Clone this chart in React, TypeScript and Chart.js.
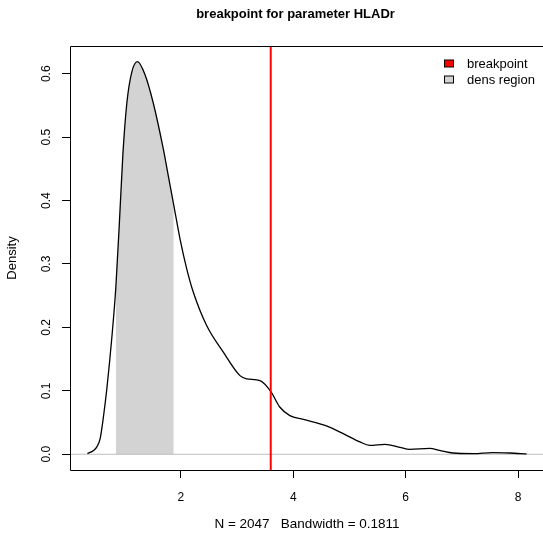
import React, { useEffect, useRef } from 'react';
import { Chart, registerables } from 'chart.js';

Chart.register(...registerables);

const titleText = 'breakpoint for parameter HLADr';
const xAxisLabel = 'N = 2047   Bandwidth = 0.1811';
const yAxisLabel = 'Density';

const densityX = [0.34, 0.45, 0.51, 0.567, 0.626, 0.686, 0.774, 0.845, 0.91, 0.97, 1.04, 1.13, 1.23, 1.366, 1.513, 1.69, 1.78, 1.875, 1.99, 2.107, 2.225, 2.46, 2.757, 3.053, 3.17, 3.41, 3.6, 3.76, 3.94, 4.18, 4.59, 4.89, 5.185, 5.36, 5.63, 5.895, 6.07, 6.43, 6.6, 6.84, 7.2, 7.55, 7.85, 8.15];
const densityY = [0.001, 0.006, 0.012, 0.025, 0.06, 0.104, 0.184, 0.263, 0.368, 0.472, 0.553, 0.603, 0.619, 0.598, 0.553, 0.481, 0.438, 0.393, 0.338, 0.292, 0.255, 0.203, 0.161, 0.124, 0.119, 0.116, 0.099, 0.0745, 0.061, 0.055, 0.0446, 0.0325, 0.0195, 0.014, 0.0157, 0.011, 0.0077, 0.0092, 0.0063, 0.002, 0.001, 0.0027, 0.002, 0.0006];

const regionStart = 0.845;
const regionEnd = 1.875;
const breakpoint = 3.6;

const xTicks = [2, 4, 6, 8];
const yTicks = [0, 0.1, 0.2, 0.3, 0.4, 0.5, 0.6];

const legendLabels = ['breakpoint', 'dens region'];
const legendColors = ['#FF0000', '#D3D3D3'];

const xMin = 0.03;
const xMax = 8.46;
const yMin = -0.0248;
const yMax = 0.6437;

const FONT = '"Liberation Sans", Arial, Helvetica, sans-serif';

export default function App() {
  const canvasRef = useRef<HTMLCanvasElement | null>(null);

  useEffect(() => {
    const canvas = canvasRef.current;
    if (!canvas) return;

    const curve = densityX.map((x, i) => ({ x, y: densityY[i] }));
    const region = curve.filter((p) => p.x >= regionStart && p.x <= regionEnd);

    const decorPlugin = {
      id: 'rDecor',
      afterDatasetsDraw(chart: any) {
        const { ctx, chartArea } = chart;
        const l = Math.round(chartArea.left) + 0.5;
        const t = Math.round(chartArea.top) + 0.5;
        const r = Math.min(Math.round(chartArea.right), window.innerWidth);
        const b = Math.round(chartArea.bottom) + 0.5;
        ctx.save();
        ctx.strokeStyle = '#000';
        ctx.lineWidth = 1;
        ctx.beginPath();
        ctx.moveTo(r, t);
        ctx.lineTo(l, t);
        ctx.lineTo(l, b);
        ctx.lineTo(r, b);
        ctx.stroke();
        ctx.restore();
      },
      afterDraw(chart: any) {
        const { ctx } = chart;
        ctx.save();
        ctx.fillStyle = '#000';
        ctx.font = `bold 13px ${FONT}`;
        ctx.textAlign = 'center';
        ctx.textBaseline = 'middle';
        ctx.fillText(titleText, 295.5, 14);

        ctx.font = `13px ${FONT}`;
        ctx.textAlign = 'left';
        legendLabels.forEach((label, i) => {
          const y = 63.5 + i * 16;
          ctx.fillStyle = legendColors[i];
          ctx.fillRect(444.5, y - 3.5, 9, 7);
          ctx.strokeStyle = '#000';
          ctx.lineWidth = 1;
          ctx.strokeRect(444.5, y - 3.5, 9, 7);
          ctx.fillStyle = '#000';
          ctx.fillText(label, 467, y + 0.5);
        });
        ctx.restore();
      },
    };

    const chart = new Chart(canvas, {
      type: 'line',
      data: {
        datasets: [
          {
            label: 'breakpoint',
            data: [
              { x: breakpoint, y: yMin },
              { x: breakpoint, y: yMax },
            ],
            borderColor: '#FF0000',
            borderWidth: 2,
            pointRadius: 0,
            fill: false,
            order: 0,
          },
          {
            label: 'density',
            data: curve,
            borderColor: '#000',
            borderWidth: 1.3,
            pointRadius: 0,
            fill: false,
            cubicInterpolationMode: 'monotone',
            order: 1,
          },
          {
            label: 'zero',
            data: [
              { x: xMin, y: 0 },
              { x: xMax, y: 0 },
            ],
            borderColor: '#BEBEBE',
            borderWidth: 1,
            pointRadius: 0,
            fill: false,
            order: 2,
          },
          {
            label: 'dens region',
            data: region,
            borderWidth: 0,
            borderColor: 'rgba(0,0,0,0)',
            backgroundColor: '#D3D3D3',
            pointRadius: 0,
            fill: 'origin',
            cubicInterpolationMode: 'monotone',
            order: 3,
          },
        ],
      },
      options: {
        animation: false,
        responsive: false,
        maintainAspectRatio: false,
        layout: { padding: { top: 46, right: 16, left: 0, bottom: 0 } },
        plugins: {
          legend: { display: false },
          tooltip: { enabled: false },
          title: { display: false },
        },
        scales: {
          x: {
            type: 'linear',
            min: xMin,
            max: xMax,
            afterBuildTicks: (scale: any) => {
              scale.ticks = xTicks.map((v) => ({ value: v }));
            },
            afterFit: (scale: any) => {
              scale.height = 65;
            },
            grid: {
              display: true,
              drawOnChartArea: false,
              drawTicks: true,
              tickLength: 8,
              color: '#000',
            },
            border: { display: false },
            ticks: {
              color: '#000',
              font: { family: FONT, size: 12 },
              padding: 12,
              maxRotation: 0,
              callback: (v: any) => String(v),
            },
            title: {
              display: true,
              text: xAxisLabel,
              color: '#000',
              font: { family: FONT, size: 13.5 },
              padding: { top: 0, bottom: 3 },
            },
          },
          y: {
            type: 'linear',
            min: yMin,
            max: yMax,
            afterBuildTicks: (scale: any) => {
              scale.ticks = yTicks.map((v) => ({ value: v }));
            },
            afterFit: (scale: any) => {
              scale.width = 70;
            },
            grid: {
              display: true,
              drawOnChartArea: false,
              drawTicks: true,
              tickLength: 8,
              color: '#000',
            },
            border: { display: false },
            ticks: {
              color: '#000',
              font: { family: FONT, size: 12 },
              padding: 7,
              minRotation: 90,
              maxRotation: 90,
              crossAlign: 'center',
              callback: (v: any) => Number(v).toFixed(1),
            },
            title: {
              display: true,
              text: yAxisLabel,
              color: '#000',
              font: { family: FONT, size: 13 },
              padding: { top: 5, bottom: 0 },
            },
          },
        },
      },
      plugins: [decorPlugin],
    } as any);

    return () => {
      chart.destroy();
    };
  }, []);

  return (
    <div
      style={{
        position: 'absolute',
        left: 0,
        top: 0,
        width: 543,
        height: 535,
        overflow: 'hidden',
        background: '#fff',
      }}
    >
      <canvas ref={canvasRef} width={560} height={535} style={{ display: 'block' }} />
    </div>
  );
}
